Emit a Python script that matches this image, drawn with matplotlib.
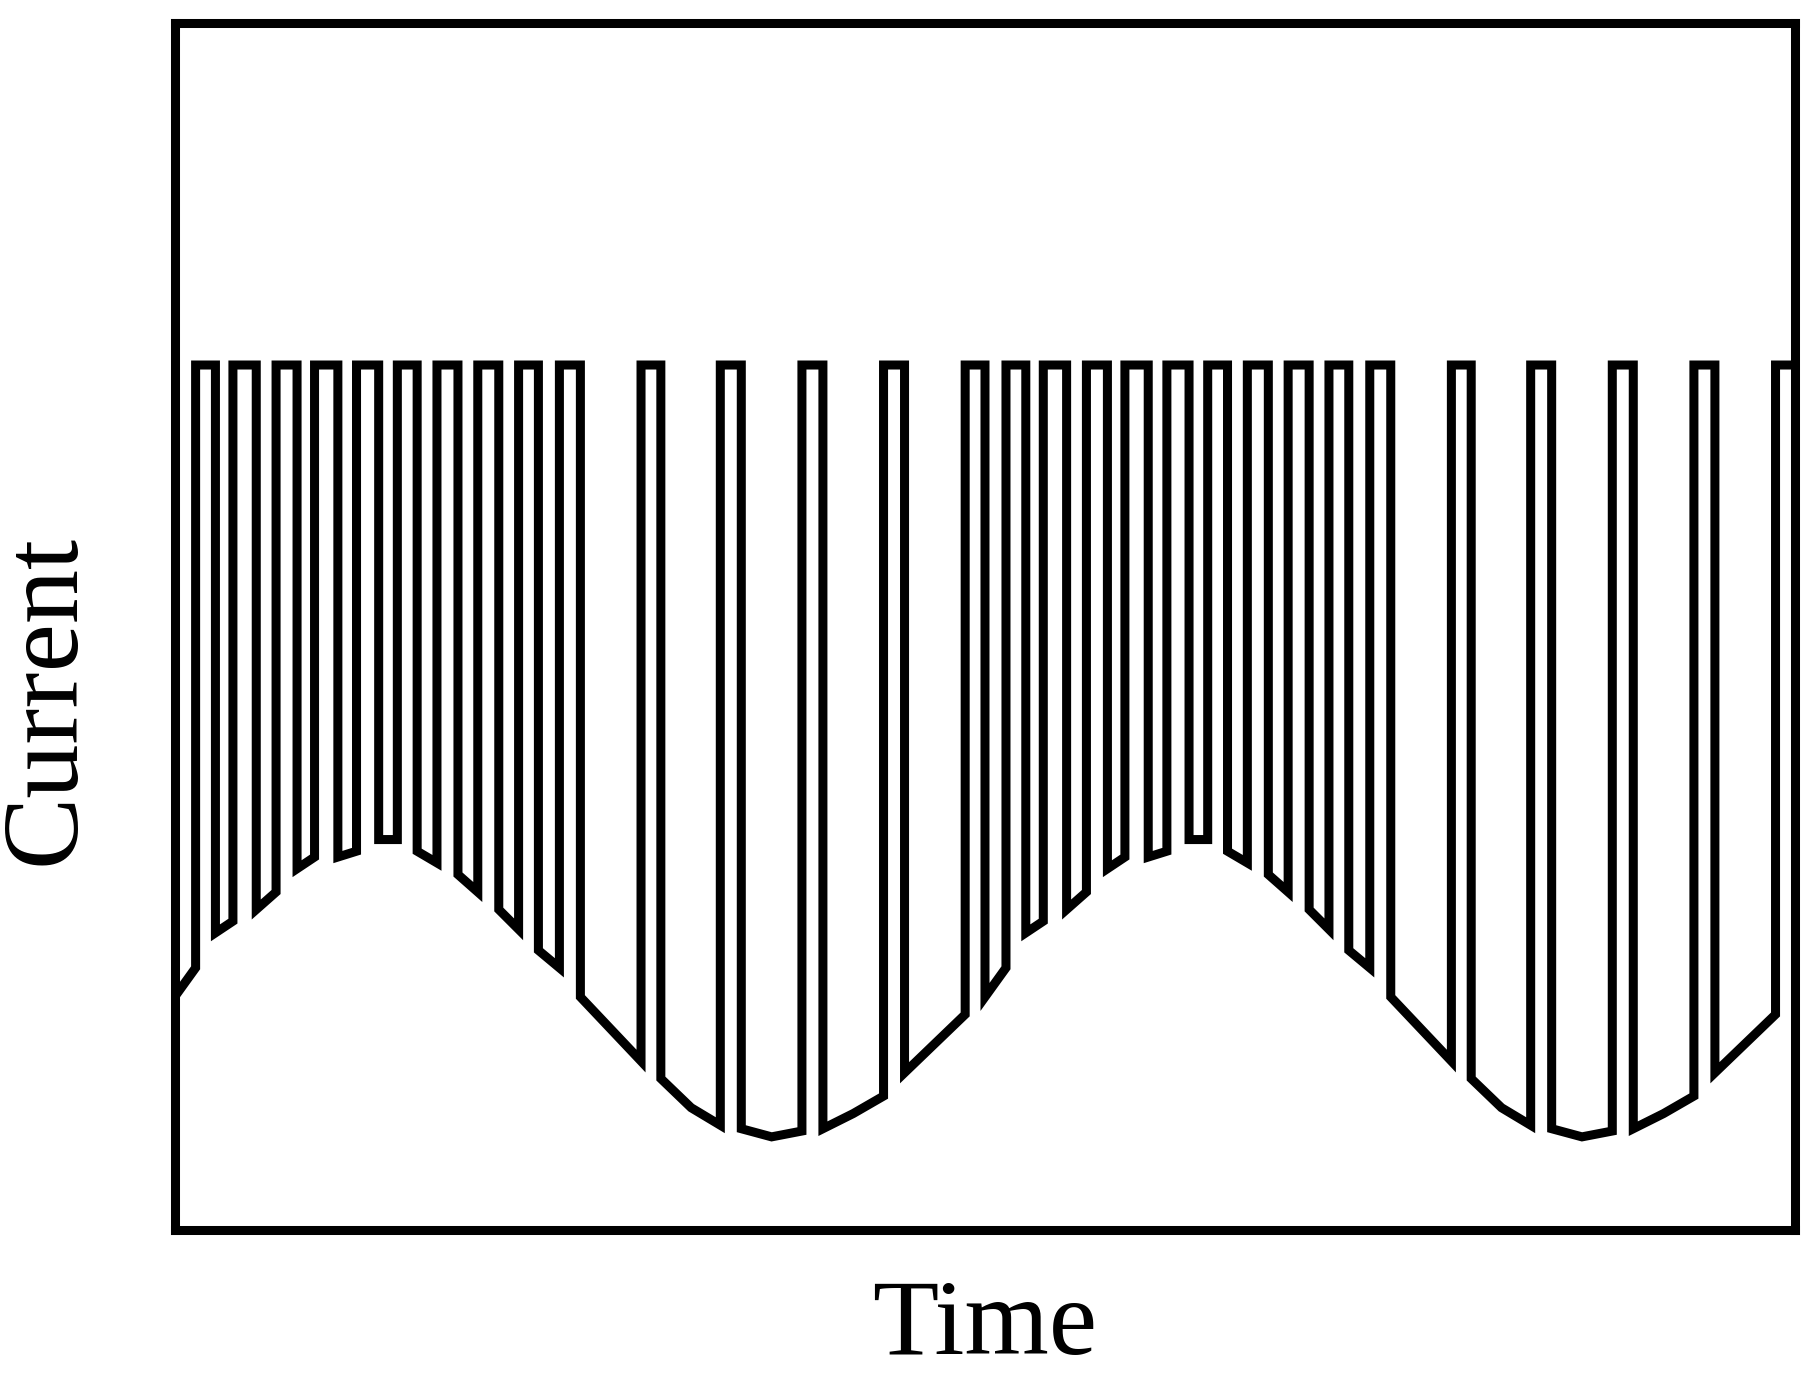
import matplotlib.pyplot as plt

# low-level segments of the pulse train (arbitrary units)
# each entry: list of (time, current) points along the bottom of one off-period
low_cycle = [
    [(0, 200), (18, 225)],
    [(35, 255), (50, 265)],
    [(70, 275), (87, 290)],
    [(105, 310), (120, 320)],
    [(140, 320), (156, 325)],
    [(175, 335), (191, 335)],
    [(208, 325), (225, 315)],
    [(243, 305), (260, 290)],
    [(278, 275), (295, 258)],
    [(312, 240), (330, 225)],
    [(348, 200), (400, 145)],
    [(417, 130), (443, 105), (468, 90)],
    [(486, 87), (512, 80), (538, 85)],
    [(556, 87), (582, 100), (608, 115)],
    [(626, 135), (678, 185)],
]
period = 695
n_cycles = 2
high_level = 742
t_end = 1390

t, c = [], []
for k in range(n_cycles):
    for seg in low_cycle:
        pts = [(p[0] + k * period, p[1]) for p in seg]
        if t:
            t.append(pts[0][0]); c.append(high_level)
        for p in pts:
            t.append(p[0]); c.append(p[1])
        t.append(pts[-1][0]); c.append(high_level)
t.append(t_end); c.append(high_level)

plt.rcParams['font.family'] = ['Liberation Serif', 'DejaVu Serif']
fig = plt.figure(figsize=(18.19, 13.76), dpi=100)
ax = fig.add_axes([0.096, 0.106, 0.891, 0.877])
ax.plot(t, c, color='black', lw=6.5, solid_joinstyle='miter')
ax.set_xlim(0, t_end)
ax.set_ylim(0, 1035)
ax.set_xticks([]); ax.set_yticks([])
for s in ax.spines.values():
    s.set_linewidth(6.5)
ax.set_xlabel('Time', fontsize=78, labelpad=35)
ax.set_ylabel('Current', fontsize=78)
ax.yaxis.set_label_coords(-0.048, 0.44)
fig.savefig('out.png', dpi=100)
